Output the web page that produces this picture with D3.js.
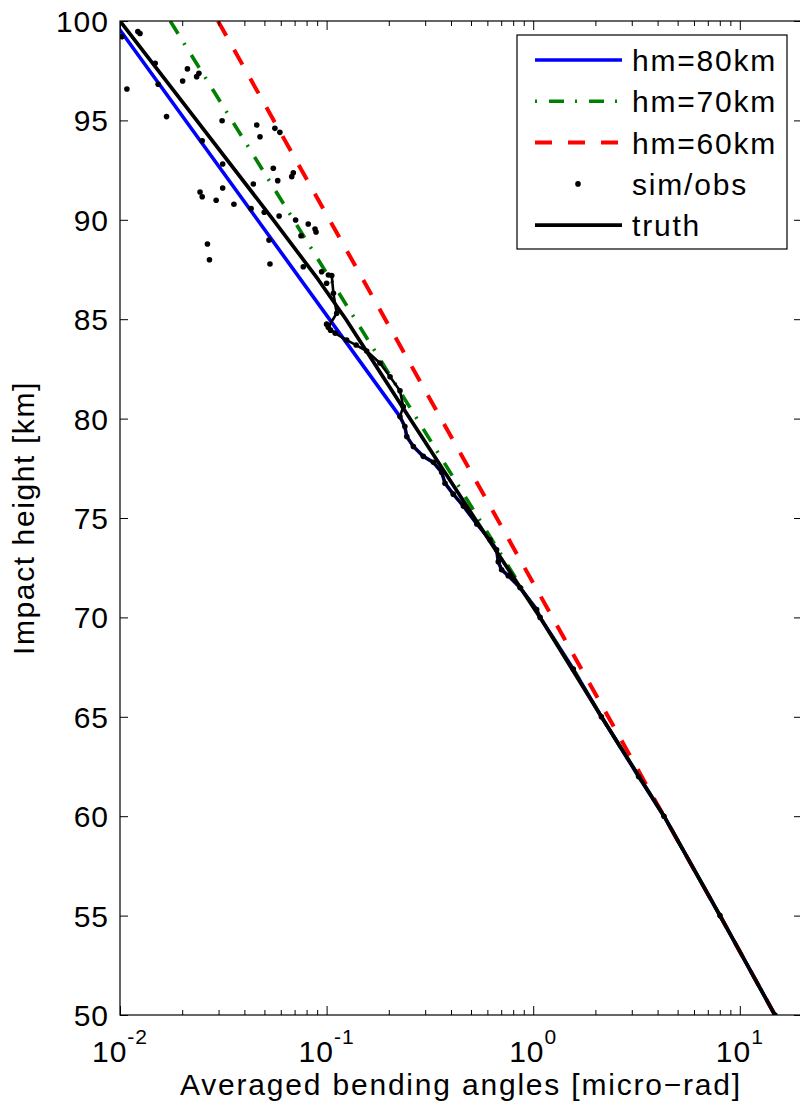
<!DOCTYPE html>
<html>
<head>
<meta charset="utf-8">
<script src="https://cdn.jsdelivr.net/npm/d3@7"></script>
<style>
  body { margin: 0; background: #fff; }
</style>
</head>
<body>
<script>
// impact height [km] and averaged bending angle [micro-rad]
const truthHeight = [100, 95, 90, 87, 85, 80, 75, 70, 65, 60, 55, 50];
const truthAngle  = [0.0100, 0.0235, 0.0552, 0.0910, 0.1240, 0.2530, 0.520, 1.079, 2.14, 4.30, 8.02, 14.79];

// dense part of the simulated observation profile
const obsHeight = [87.2, 86.3, 85.3, 84.6, 84.3, 83.95, 83.7, 83.4, 82.8, 82.1, 81.4, 80.6, 80.1, 79.6, 79.1, 78.6,
  78.1, 77.8, 77.3, 76.75, 76.2, 75.6, 74.7, 73.9, 73.4, 72.8, 72.4, 72.1, 71.5, 70.4, 70, 67.4, 65, 62, 60, 55, 50];
const obsAngle = [0.1059, 0.1079, 0.1119, 0.1019, 0.1099, 0.1250, 0.1390, 0.1563, 0.1811, 0.2028, 0.2265, 0.2350, 0.2265, 0.2393, 0.2443, 0.2630,
  0.2938, 0.3289, 0.3606, 0.3741, 0.4102, 0.4592, 0.5333, 0.6180, 0.6653, 0.6776, 0.7031, 0.7568, 0.8630, 1.039, 1.08, 1.563, 2.138, 3.236, 4.295, 8.017, 14.79];

// noisy observations high up
const scatterHeight = [99.21, 99.47, 99.37, 96.58, 96.82, 97.87, 95.19, 96.98, 97.59, 97.20, 97.37, 93.98, 94.98, 94.77, 94.18,
  94.60, 94.40, 92.81, 91.80, 92.59, 91.97, 92.17, 92.37, 91.40, 91.16, 90.98, 91.60, 90.78, 90.56, 90.38, 90.19, 89.99,
  89.20, 89.79, 89.54, 89.39, 88.98, 88.78, 87.99, 87.78, 87.64, 87.39, 87.22, 86.81, 84.45, 84.75];
const scatterAngle = [0.0102, 0.0122, 0.0125, 0.0108, 0.0153, 0.0148, 0.0168, 0.0201, 0.0212, 0.0235, 0.0241, 0.0250, 0.0312, 0.0459, 0.0476,
  0.0562, 0.0594, 0.0314, 0.0442, 0.0552, 0.0580, 0.0678, 0.0690, 0.0244, 0.0250, 0.0292, 0.0314, 0.0356, 0.0431, 0.0499, 0.0589, 0.0708,
  0.0752, 0.0815, 0.0879, 0.0889, 0.0526, 0.0265, 0.0271, 0.0532, 0.0771, 0.0946, 0.102, 0.100, 0.1045, 0.1000];

// exponential extrapolation above the merging height
const hm80Height = [100, 80.1];
const hm80Angle  = [0.0093, 0.2265];
const hm70Height = [100, 70];
const hm70Angle  = [0.0175, 1.08];
const hm60Height = [100, 60];
const hm60Angle  = [0.0298, 4.295];

const legendLabels = ["hm=80km", "hm=70km", "hm=60km", "sim/obs", "truth"];
const yTicks = [50, 55, 60, 65, 70, 75, 80, 85, 90, 95, 100];
const xDecades = [0.01, 0.1, 1, 10];
const xExponents = ["-2", "-1", "0", "1"];

const W = 800, H = 1111;
const mLeft = 120, mRight = 802, mTop = 21, mBottom = 1015;
const font = "'Liberation Sans', Arial, Helvetica, sans-serif";

const x = d3.scaleLog().domain([0.01, 20]).range([mLeft, mRight]);
const y = d3.scaleLinear().domain([50, 100]).range([mBottom, mTop]);

const svg = d3.select("body").append("svg")
    .attr("width", W)
    .attr("height", H)
    .style("font-family", font);

svg.append("clipPath").attr("id", "plot")
  .append("rect")
    .attr("x", mLeft).attr("y", mTop)
    .attr("width", mRight - mLeft).attr("height", mBottom - mTop);

const pts = (hs, as) => hs.map((h, i) => ({ h: h, a: as[i] }));
const obs = pts(obsHeight, obsAngle);
const hm80 = pts(hm80Height, hm80Angle).concat(obs.filter(d => d.h < 80.1));
const hm70 = pts(hm70Height, hm70Angle).concat(obs.filter(d => d.h < 70));
const hm60 = pts(hm60Height, hm60Angle).concat(obs.filter(d => d.h < 60));
const truth = pts(truthHeight, truthAngle);
const scatter = pts(scatterHeight, scatterAngle);

const line = d3.line().x(d => x(d.a)).y(d => y(d.h));

const g = svg.append("g").attr("clip-path", "url(#plot)");

g.append("path").datum(hm80)
    .attr("d", line).attr("fill", "none")
    .attr("stroke", "#0000ff").attr("stroke-width", 3.6).attr("stroke-linejoin", "round");
g.append("path").datum(hm70)
    .attr("d", line).attr("fill", "none")
    .attr("stroke", "#008000").attr("stroke-width", 3.6)
    .attr("stroke-dasharray", "15,11,2,12");
g.append("path").datum(hm60)
    .attr("d", line).attr("fill", "none")
    .attr("stroke", "#ff0000").attr("stroke-width", 4)
    .attr("stroke-dasharray", "17,16");

// sim/obs
g.append("path").datum(obs)
    .attr("d", line).attr("fill", "none")
    .attr("stroke", "#000").attr("stroke-width", 2.6).attr("stroke-linejoin", "round");
g.selectAll("circle.obs").data(obs.concat(scatter)).enter().append("circle")
    .attr("class", "obs")
    .attr("cx", d => x(d.a)).attr("cy", d => y(d.h))
    .attr("r", 2.8).attr("fill", "#000");

g.append("path").datum(truth)
    .attr("d", line).attr("fill", "none")
    .attr("stroke", "#000").attr("stroke-width", 3.7).attr("stroke-linejoin", "round");

// axes, ticks pointing inwards
const minor = [];
xDecades.forEach(d => { for (let k = 2; k <= 9; k++) if (d * k < 20) minor.push(d * k); });

function tickStyle(sel) {
  sel.select(".domain").remove();
  sel.selectAll("line").attr("stroke", "#000").attr("stroke-width", 1);
  sel.selectAll("text").remove();
}
svg.append("g").attr("transform", `translate(0,${mBottom})`)
    .call(d3.axisBottom(x).tickValues(xDecades).tickSize(-9)).call(tickStyle);
svg.append("g").attr("transform", `translate(0,${mBottom})`)
    .call(d3.axisBottom(x).tickValues(minor).tickSize(-5)).call(tickStyle);
svg.append("g").attr("transform", `translate(0,${mTop})`)
    .call(d3.axisTop(x).tickValues(xDecades).tickSize(-9)).call(tickStyle);
svg.append("g").attr("transform", `translate(0,${mTop})`)
    .call(d3.axisTop(x).tickValues(minor).tickSize(-5)).call(tickStyle);
svg.append("g").attr("transform", `translate(${mLeft},0)`)
    .call(d3.axisLeft(y).tickValues(yTicks).tickSize(-8)).call(tickStyle);
svg.append("g").attr("transform", `translate(${mRight},0)`)
    .call(d3.axisRight(y).tickValues(yTicks).tickSize(-8)).call(tickStyle);

svg.append("rect")
    .attr("x", mLeft).attr("y", mTop)
    .attr("width", mRight - mLeft).attr("height", mBottom - mTop)
    .attr("fill", "none").attr("stroke", "#000").attr("stroke-width", 1.2);

// tick labels
svg.selectAll("text.ylab").data(yTicks).enter().append("text")
    .attr("class", "ylab")
    .attr("x", mLeft - 11).attr("y", d => y(d) + 11)
    .attr("text-anchor", "end")
    .attr("font-size", 30).attr("letter-spacing", 1)
    .text(d => d);

const xl = svg.selectAll("text.xlab").data(xDecades).enter().append("text")
    .attr("class", "xlab")
    .attr("x", d => x(d)).attr("y", mBottom + 47)
    .attr("text-anchor", "middle")
    .attr("font-size", 30).attr("letter-spacing", 1);
xl.append("tspan").text("10");
xl.append("tspan").attr("dy", -18).attr("font-size", 21).text((d, i) => xExponents[i]);

svg.append("text")
    .attr("x", (mLeft + mRight) / 2).attr("y", 1095)
    .attr("text-anchor", "middle")
    .attr("font-size", 30).attr("letter-spacing", 1.8)
    .text("Averaged bending angles [micro\u2212rad]");

svg.append("text")
    .attr("transform", `translate(34,${(mTop + mBottom) / 2}) rotate(-90)`)
    .attr("text-anchor", "middle")
    .attr("font-size", 30).attr("letter-spacing", 1.6)
    .text("Impact height [km]");

// legend
const lg = svg.append("g");
lg.append("rect")
    .attr("x", 517).attr("y", 35).attr("width", 270).attr("height", 214)
    .attr("fill", "#fff").attr("stroke", "#000").attr("stroke-width", 1.2);
const styles = [
  { c: "#0000ff", w: 3.6, dash: null },
  { c: "#008000", w: 3.6, dash: "2,12,15,11" },
  { c: "#ff0000", w: 4, dash: "17,16" },
  { c: "#000", w: 0, dash: null, dot: true },
  { c: "#000", w: 3.7, dash: null }
];
legendLabels.forEach((lab, i) => {
  const yy = 60 + i * 41.3;
  const s = styles[i];
  if (s.dot) {
    lg.append("circle").attr("cx", 578).attr("cy", yy).attr("r", 2.8).attr("fill", "#000");
  } else {
    lg.append("line").attr("x1", 535).attr("x2", 622).attr("y1", yy).attr("y2", yy)
      .attr("stroke", s.c).attr("stroke-width", s.w)
      .attr("stroke-dasharray", s.dash);
  }
  lg.append("text").attr("x", 632).attr("y", yy + 11)
    .attr("font-size", 30).attr("letter-spacing", 1.8)
    .text(lab);
});
</script>
</body>
</html>
